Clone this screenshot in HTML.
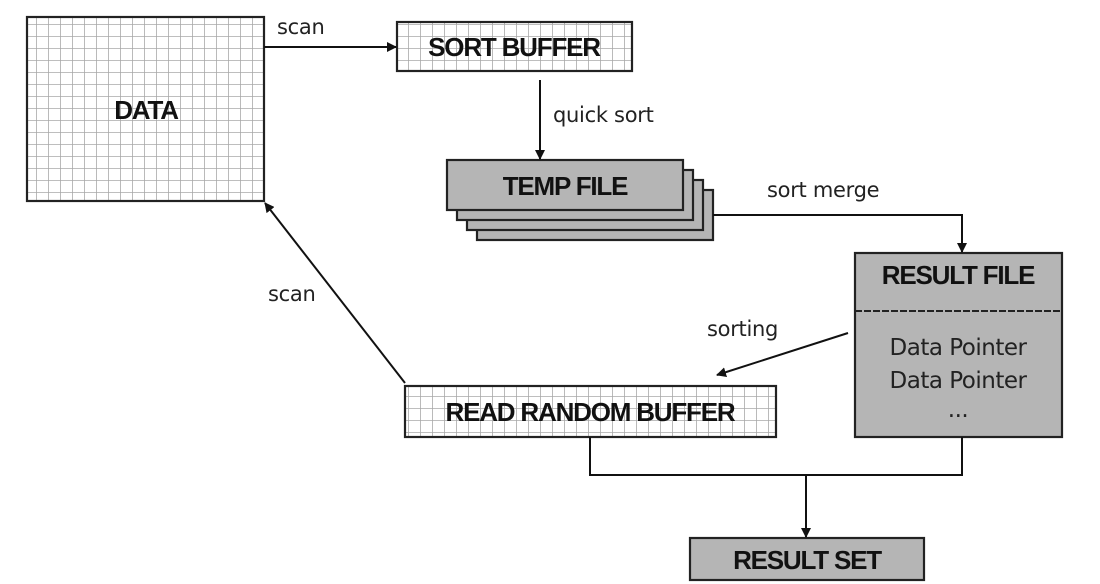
<!DOCTYPE html>
<html><head><meta charset="utf-8"><style>
html,body{margin:0;padding:0;background:#fff;}
svg{display:block;}
.t{font-family:"Liberation Sans Narrow","Liberation Sans",sans-serif;font-weight:bold;font-size:26px;fill:#111;text-anchor:middle;letter-spacing:-1.2px;}
.l{font-family:"DejaVu Sans","Liberation Sans",sans-serif;font-size:21px;fill:#222;letter-spacing:-0.3px;}
.d{font-family:"DejaVu Sans","Liberation Sans",sans-serif;font-size:23px;fill:#222;text-anchor:middle;letter-spacing:-0.5px;}
</style></head><body>
<svg width="1100" height="584" viewBox="0 0 1100 584" xmlns="http://www.w3.org/2000/svg">
<defs>
<pattern id="g" width="12" height="12" patternUnits="userSpaceOnUse">
<rect width="12" height="12" fill="#fff"/>
<path d="M0 0V12M0 0H12" stroke="#a8a8a8" stroke-width="1.6" fill="none"/>
</pattern>
<marker id="a" viewBox="0 0 10 10" refX="9" refY="5" markerWidth="10" markerHeight="10" orient="auto" markerUnits="userSpaceOnUse"><path d="M0 0L10 5L0 10z" fill="#111"/></marker>
</defs>
<g stroke="#222" stroke-width="2.2">
<rect x="27" y="17" width="237" height="184" fill="url(#g)"/>
<rect x="397" y="22" width="235" height="49" fill="url(#g)"/>
<rect x="477" y="190" width="236" height="50" fill="#b5b5b5"/>
<rect x="467" y="180" width="236" height="50" fill="#b5b5b5"/>
<rect x="457" y="170" width="236" height="50" fill="#b5b5b5"/>
<rect x="447" y="160" width="236" height="50" fill="#b5b5b5"/>
<rect x="855" y="253" width="207" height="184" fill="#b5b5b5"/>
<rect x="405" y="386" width="371" height="51" fill="url(#g)"/>
<rect x="690" y="538" width="234" height="42" fill="#b5b5b5"/>
</g>
<line x1="855" y1="311" x2="1062" y2="311" stroke="#222" stroke-width="2" stroke-dasharray="7,2"/>
<g stroke="#111" stroke-width="2" fill="none">
<line x1="264" y1="47" x2="396" y2="47" marker-end="url(#a)"/>
<line x1="540" y1="80" x2="540" y2="159" marker-end="url(#a)"/>
<polyline points="713,215 962,215 962,252" marker-end="url(#a)"/>
<line x1="848" y1="333" x2="717" y2="375" marker-end="url(#a)"/>
<line x1="405" y1="383" x2="265" y2="203" marker-end="url(#a)"/>
<polyline points="590,437 590,475 962,475 962,437"/>
<line x1="806" y1="475" x2="806" y2="537" marker-end="url(#a)"/>
</g>
<text class="t" x="146" y="119">DATA</text>
<text class="t" x="514" y="56">SORT BUFFER</text>
<text class="t" x="565" y="195">TEMP FILE</text>
<text class="t" x="958" y="284">RESULT FILE</text>
<text class="t" x="590" y="421">READ RANDOM BUFFER</text>
<text class="t" x="807" y="569">RESULT SET</text>
<text class="l" x="277" y="34">scan</text>
<text class="l" x="553" y="122">quick sort</text>
<text class="l" x="767" y="197">sort merge</text>
<text class="l" x="707" y="336">sorting</text>
<text class="l" x="268" y="301">scan</text>
<text class="d" x="958" y="355">Data Pointer</text>
<text class="d" x="958" y="388">Data Pointer</text>
<text class="d" x="958" y="417">...</text>
</svg>
</body></html>
